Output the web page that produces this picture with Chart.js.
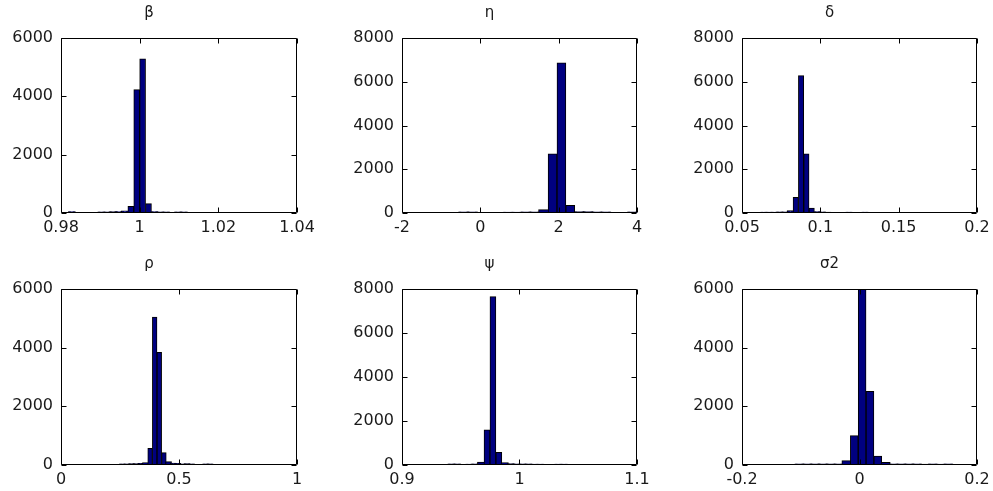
<!DOCTYPE html>
<html>
<head>
<meta charset="utf-8">
<script src="https://cdn.jsdelivr.net/npm/chart.js@4/dist/chart.umd.min.js"></script>
<style>
  html, body { margin: 0; padding: 0; background: #ffffff; overflow: hidden; }
  body { width: 993px; height: 491px; position: relative; }
  canvas { position: absolute; }
</style>
</head>
<body>
<canvas id="c0"></canvas>
<canvas id="c1"></canvas>
<canvas id="c2"></canvas>
<canvas id="c3"></canvas>
<canvas id="c4"></canvas>
<canvas id="c5"></canvas>
<script>
// ---- data ----
const titles = ['β', 'η', 'δ', 'ρ', 'ψ', 'σ2'];

const betaCenters = [0.98275, 0.98425, 0.98575, 0.98725, 0.98875, 0.99025, 0.99175, 0.99325, 0.99475, 0.99625, 0.99775, 0.99925, 1.00075, 1.00225, 1.00375, 1.00525, 1.00675, 1.00825, 1.00975, 1.01125];
const betaCounts  = [30, 0, 0, 0, 0, 20, 20, 25, 30, 50, 230, 4230, 5290, 320, 30, 20, 15, 0, 20, 15];

const etaCenters = [-0.4265, -0.1995, 0.0275, 0.2545, 0.4815, 0.7085, 0.9355, 1.1625, 1.3895, 1.6165, 1.8435, 2.0705, 2.2975, 2.5245, 2.7515, 2.9785, 3.2055, 3.4325, 3.6595, 3.8865];
const etaCounts  = [25, 20, 0, 0, 0, 15, 15, 20, 25, 130, 2700, 6860, 350, 30, 30, 25, 20, 0, 0, 25];

const deltaCenters = [0.0639, 0.0673, 0.0707, 0.0741, 0.0775, 0.0809, 0.0843, 0.0877, 0.0911, 0.0945, 0.0979, 0.1013, 0.1047, 0.1081, 0.1115, 0.1149, 0.1183, 0.1217, 0.1251, 0.1285];
const deltaCounts  = [15, 15, 15, 20, 25, 80, 720, 6280, 2700, 230, 40, 25, 10, 0, 0, 0, 15, 0, 0, 15];

const rhoCenters = [0.2598, 0.2794, 0.2990, 0.3186, 0.3382, 0.3578, 0.3774, 0.3970, 0.4166, 0.4362, 0.4558, 0.4754, 0.4950, 0.5146, 0.5342, 0.5538, 0.5734, 0.5930, 0.6126, 0.6322];
const rhoCounts  = [20, 20, 25, 25, 30, 60, 570, 5040, 3840, 420, 90, 40, 30, 15, 25, 20, 0, 0, 20, 15];

const psiCenters = [0.94203, 0.94708, 0.95213, 0.95718, 0.96223, 0.96728, 0.97233, 0.97738, 0.98243, 0.98748, 0.99253, 0.99758, 1.00263, 1.00768, 1.01273, 1.01778, 1.02283, 1.02788, 1.03293, 1.03798];
const psiCounts  = [20, 20, 0, 15, 20, 100, 1600, 7650, 580, 80, 30, 25, 20, 20, 15, 15, 0, 0, 15, 15];

const sigma2Centers = [-0.10233, -0.08898, -0.07563, -0.06228, -0.04893, -0.03558, -0.02223, -0.00888, 0.00448, 0.01783, 0.03118, 0.04453, 0.05788, 0.07123, 0.08458, 0.09793, 0.11128, 0.12463, 0.13798, 0.15133];
const sigma2Counts  = [15, 15, 15, 15, 15, 20, 125, 1000, 5990, 2510, 300, 70, 20, 15, 15, 15, 5, 20, 10, 20];

// axis ranges and tick labels
const xRanges = [[0.98, 1.04], [-2, 4], [0.05, 0.2], [0, 1], [0.9, 1.1], [-0.2, 0.2]];
const xTickValues = [[0.98, 1, 1.02, 1.04], [-2, 0, 2, 4], [0.05, 0.1, 0.15, 0.2], [0, 0.5, 1], [0.9, 1, 1.1], [-0.2, 0, 0.2]];
const xTickLabels = [['0.98', '1', '1.02', '1.04'], ['-2', '0', '2', '4'], ['0.05', '0.1', '0.15', '0.2'], ['0', '0.5', '1'], ['0.9', '1', '1.1'], ['-0.2', '0', '0.2']];
const yMaxes = [6000, 8000, 8000, 6000, 8000, 6000];
const yTickValues = [[0, 2000, 4000, 6000], [0, 2000, 4000, 6000, 8000], [0, 2000, 4000, 6000, 8000], [0, 2000, 4000, 6000], [0, 2000, 4000, 6000, 8000], [0, 2000, 4000, 6000]];

const allCenters = [betaCenters, etaCenters, deltaCenters, rhoCenters, psiCenters, sigma2Centers];
const allCounts = [betaCounts, etaCounts, deltaCounts, rhoCounts, psiCounts, sigma2Counts];

// ---- layout (plot boxes in page pixels) ----
const boxes = [
  { l: 61,  r: 297, t: 38,  b: 213 },
  { l: 402, r: 637, t: 38,  b: 213 },
  { l: 742, r: 977, t: 38,  b: 213 },
  { l: 61,  r: 297, t: 289, b: 465 },
  { l: 402, r: 637, t: 289, b: 465 },
  { l: 742, r: 977, t: 289, b: 465 }
];
const SIDE = 60, TOP = 38, BOTTOM = 30;
const FONT = "'DejaVu Sans', 'Liberation Sans', Arial, sans-serif";
const TEXT = '#1a1a1a';

const boxPlugin = {
  id: 'matlabBox',
  afterDraw(chart) {
    const { ctx, chartArea: a } = chart;
    const xs = chart.scales.x, ys = chart.scales.y;
    ctx.save();
    ctx.strokeStyle = '#000000';
    ctx.lineWidth = 1;
    ctx.beginPath();
    const L = Math.round(a.left) + 0.5, R = Math.round(a.right) - 0.5;
    const T = Math.round(a.top) + 0.5, B = Math.round(a.bottom) - 0.5;
    ctx.rect(L, T, R - L, B - T);
    const tl = 5;
    xs.ticks.forEach(t => {
      const px = Math.round(xs.getPixelForValue(t.value)) + 0.5;
      ctx.moveTo(px, B); ctx.lineTo(px, B - tl);
      ctx.moveTo(px, T); ctx.lineTo(px, T + tl);
    });
    ys.ticks.forEach(t => {
      const py = Math.round(ys.getPixelForValue(t.value)) + 0.5;
      ctx.moveTo(L, py); ctx.lineTo(L + tl, py);
      ctx.moveTo(R, py); ctx.lineTo(R - tl, py);
    });
    ctx.stroke();
    ctx.restore();
  }
};

function makeHist(i) {
  const bx = boxes[i];
  const cv = document.getElementById('c' + i);
  const w = SIDE + (bx.r - bx.l) + SIDE;
  const h = TOP + (bx.b - bx.t) + BOTTOM;
  cv.width = w; cv.height = h;
  cv.style.width = w + 'px'; cv.style.height = h + 'px';
  cv.style.left = (bx.l - SIDE) + 'px';
  cv.style.top = (bx.t - TOP) + 'px';

  const pts = allCenters[i].map((c, k) => ({ x: c, y: allCounts[i][k] }));
  const xv = xTickValues[i], xl = xTickLabels[i], yv = yTickValues[i];

  new Chart(cv, {
    type: 'bar',
    data: {
      datasets: [{
        data: pts,
        backgroundColor: '#000080',
        borderColor: '#000000',
        borderWidth: 1,
        borderSkipped: false,
        // thin bins get an edge outline like MATLAB patches; empty bins draw nothing
        inflateAmount: (c) => {
          const v = c.raw ? c.raw.y : 0;
          if (v === 0) return 0;
          return v < 200 ? 1 : 0.33;
        },
        barPercentage: 1.0,
        categoryPercentage: 1.0
      }]
    },
    options: {
      responsive: false,
      animation: false,
      devicePixelRatio: 1,
      layout: { padding: { left: 0, right: SIDE, top: 0, bottom: 0 } },
      plugins: {
        legend: { display: false },
        tooltip: { enabled: false },
        title: {
          display: true,
          text: titles[i],
          color: TEXT,
          font: { family: FONT, size: 15, weight: 'normal', lineHeight: 1.2 },
          padding: { top: 4, bottom: 16 }
        }
      },
      scales: {
        x: {
          type: 'linear',
          offset: false,
          min: xRanges[i][0],
          max: xRanges[i][1],
          grid: { display: false, drawTicks: false },
          border: { display: false },
          afterBuildTicks: s => { s.ticks = xv.map(v => ({ value: v })); },
          afterFit: s => { s.height = BOTTOM; },
          ticks: {
            autoSkip: false,
            maxRotation: 0,
            minRotation: 0,
            padding: 5,
            color: TEXT,
            font: { family: FONT, size: 16 },
            callback: (v) => { const k = xv.indexOf(v); return k >= 0 ? xl[k] : ''; }
          }
        },
        y: {
          type: 'linear',
          min: 0,
          max: yMaxes[i],
          grid: { display: false, drawTicks: false },
          border: { display: false },
          afterBuildTicks: s => { s.ticks = yv.map(v => ({ value: v })); },
          afterFit: s => { s.width = SIDE; },
          ticks: {
            autoSkip: false,
            padding: 8,
            color: TEXT,
            font: { family: FONT, size: 16 },
            callback: (v) => String(v)
          }
        }
      }
    },
    plugins: [boxPlugin]
  });
}

for (let i = 0; i < 6; i++) makeHist(i);
</script>
</body>
</html>
